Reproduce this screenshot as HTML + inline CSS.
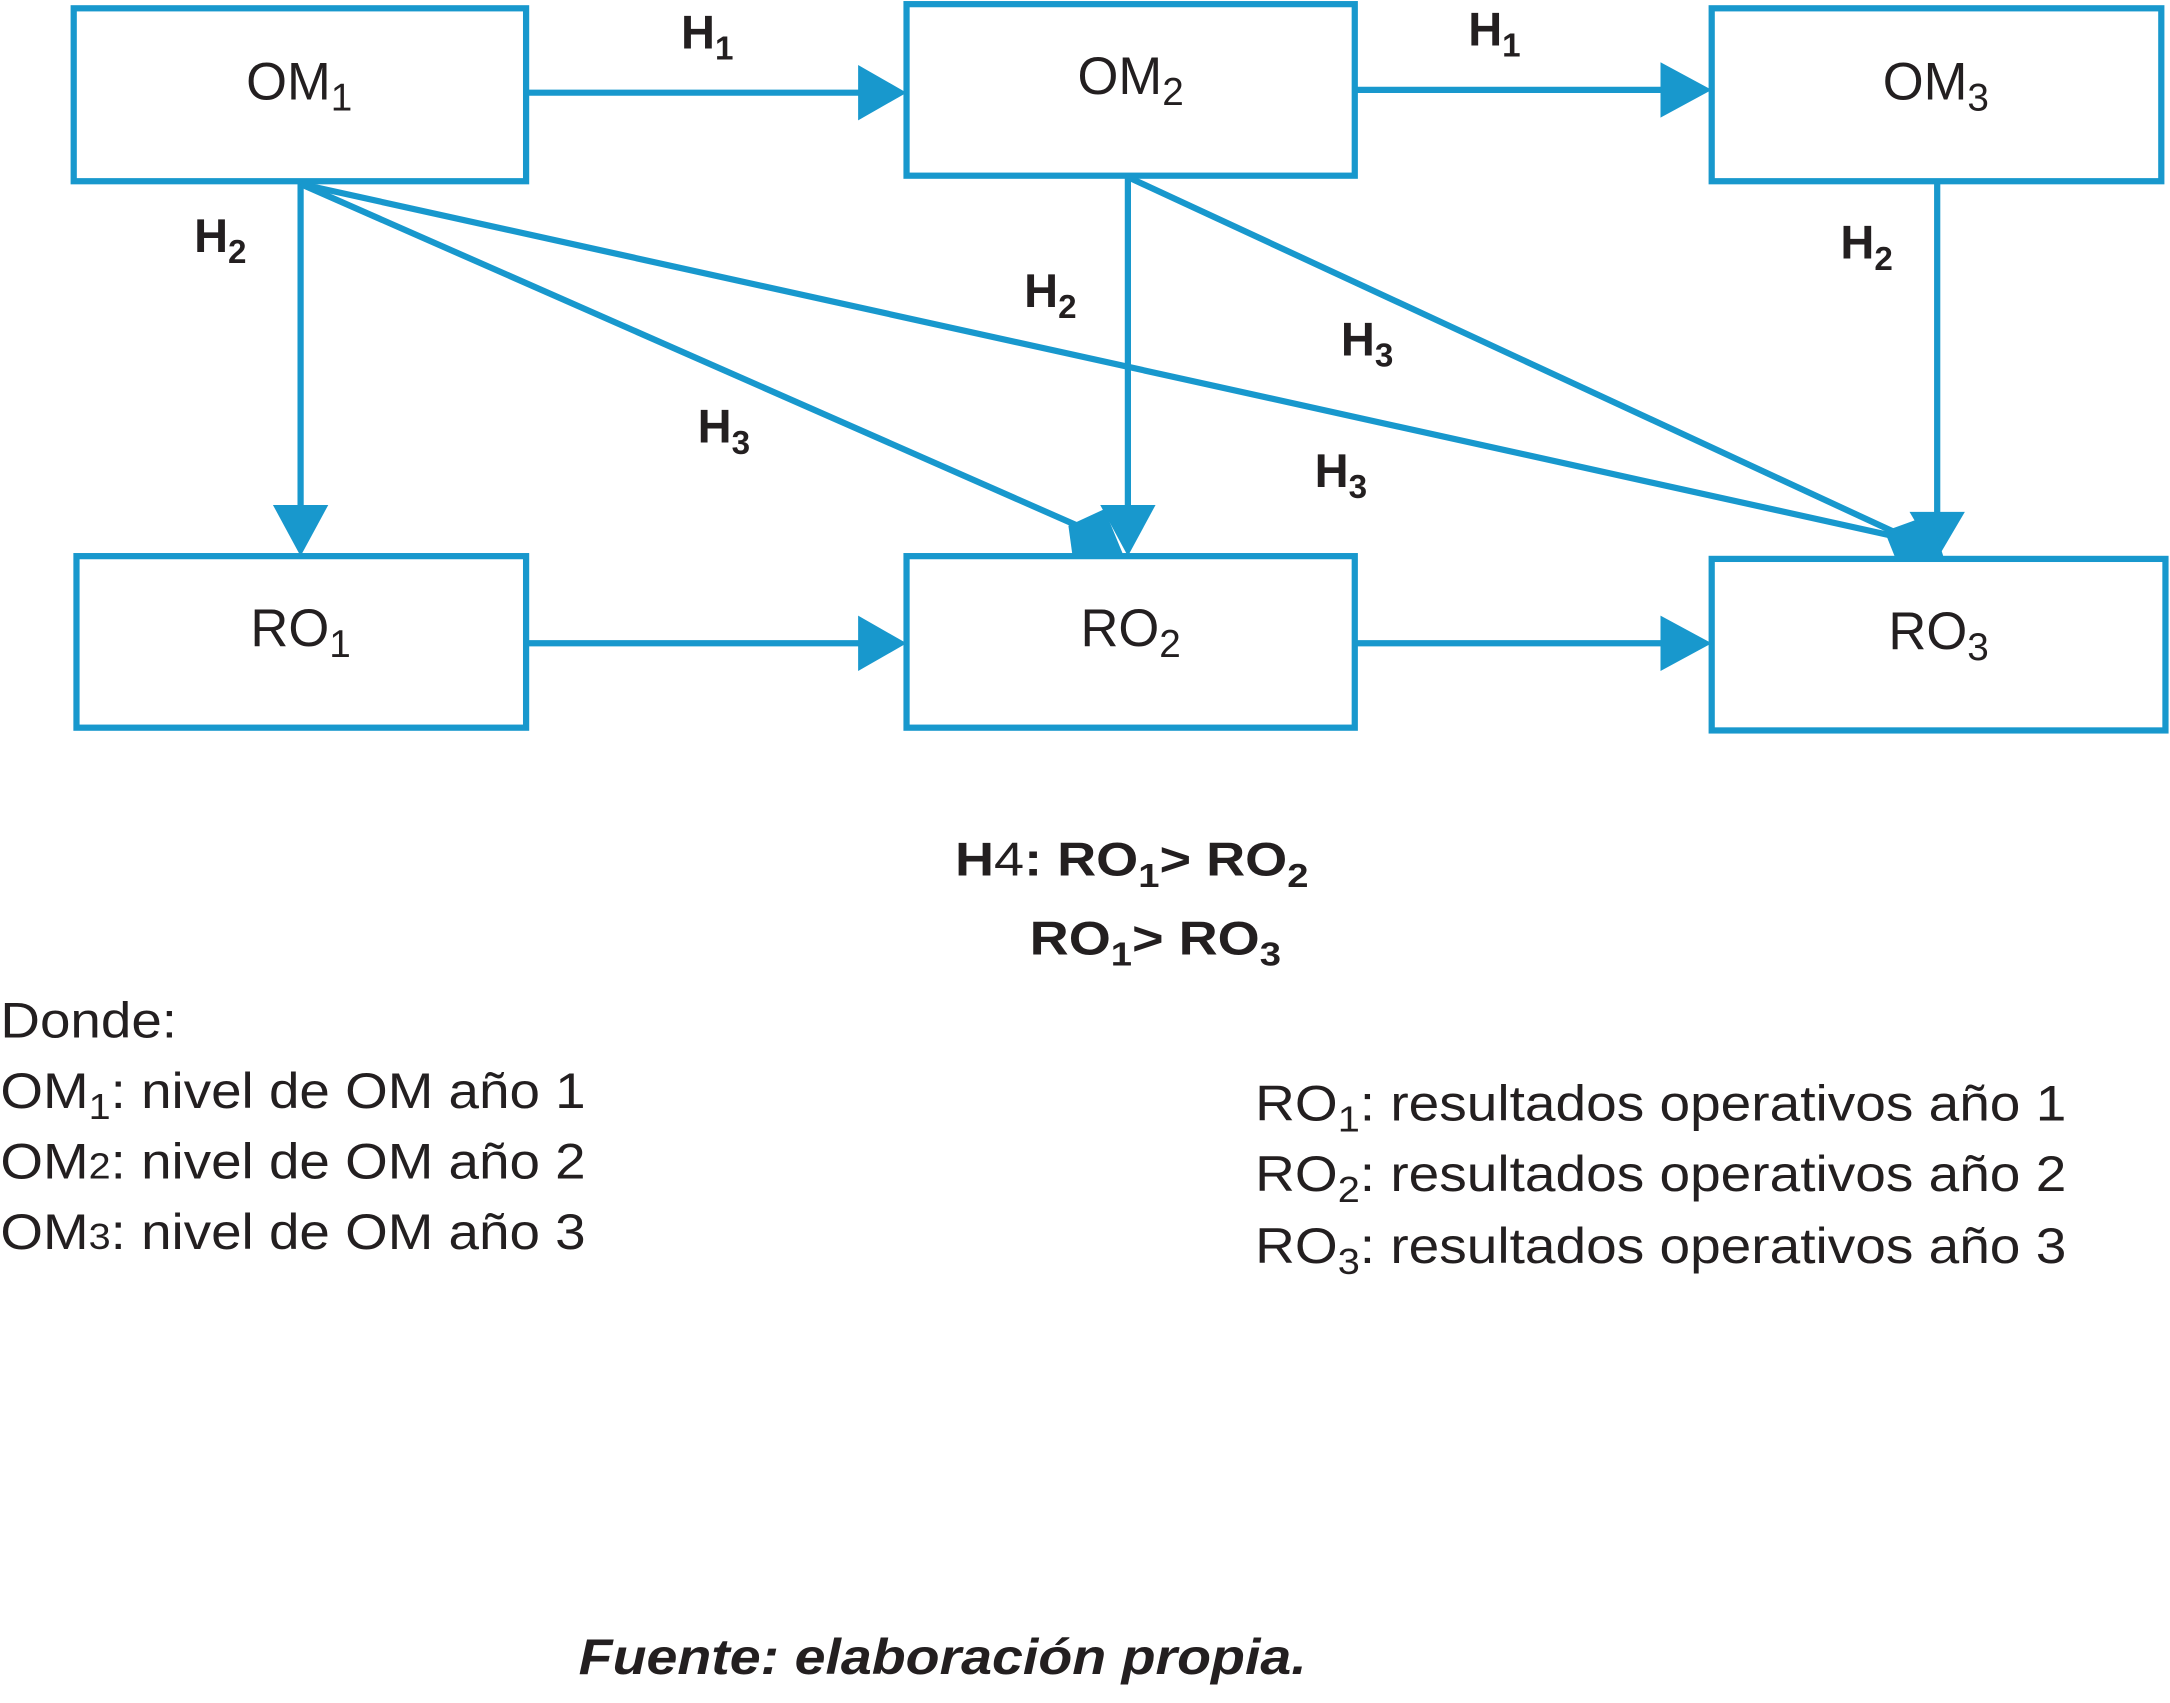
<!DOCTYPE html>
<html><head><meta charset="utf-8"><style>html,body{margin:0;padding:0;background:#fff}svg{display:block}</style></head>
<body>
<svg width="2170" height="1703" viewBox="0 0 1568 1231" xmlns="http://www.w3.org/2000/svg" font-family="Liberation Sans, Arial, sans-serif">
<g fill="none" stroke="#1898cd" stroke-width="4.5">
<rect x="53" y="6" width="327" height="125"/>
<rect x="655" y="3" width="324" height="124"/>
<rect x="1237" y="6" width="325" height="125"/>
<rect x="55" y="402" width="325" height="124"/>
<rect x="655" y="402" width="324" height="124"/>
<rect x="1237" y="404" width="328" height="124"/>
<line x1="380" y1="67" x2="622" y2="67"/>
<line x1="979" y1="65" x2="1202" y2="65"/>
<line x1="217" y1="131" x2="217" y2="367"/>
<line x1="380" y1="465" x2="622" y2="465"/>
<line x1="979" y1="465" x2="1202" y2="465"/>
<line x1="1400" y1="131" x2="1400" y2="372"/>
<line x1="815" y1="127" x2="815" y2="367"/>
<line x1="217" y1="133" x2="790" y2="385"/>
<line x1="217" y1="133" x2="1380" y2="390"/>
<line x1="815" y1="128" x2="1385" y2="392"/>
</g>
<g fill="#1898cd">
<polygon points="620,47 655,67 620,87"/>
<polygon points="1200,45 1237,65 1200,85"/>
<polygon points="197,365 237,365 217,402"/>
<polygon points="620,445 655,465 620,485"/>
<polygon points="1200,445 1237,465 1200,485"/>
<polygon points="1380,370 1420,370 1400,404"/>
<polygon points="795,365 835,365 815,402"/>
<polygon points="772,380 798,368 812,402 775,402"/>
<polygon points="1362,384 1395,372 1405,404 1370,404"/>
</g>
<g font-size="38" fill="#231f20" text-anchor="middle">
<text x="216" y="72">OM<tspan font-size="28" dy="8">1</tspan></text>
<text x="817" y="68">OM<tspan font-size="28" dy="8">2</tspan></text>
<text x="1399" y="72">OM<tspan font-size="28" dy="8">3</tspan></text>
<text x="217" y="467">RO<tspan font-size="28" dy="8">1</tspan></text>
<text x="817" y="467">RO<tspan font-size="28" dy="8">2</tspan></text>
<text x="1401" y="469">RO<tspan font-size="28" dy="8">3</tspan></text>
</g>
<g font-size="34" font-weight="bold" fill="#231f20">
<text x="492" y="35">H<tspan font-size="24" dy="8">1</tspan></text>
<text x="1061" y="33">H<tspan font-size="24" dy="8">1</tspan></text>
<text x="140" y="182">H<tspan font-size="24" dy="8">2</tspan></text>
<text x="740" y="222">H<tspan font-size="24" dy="8">2</tspan></text>
<text x="1330" y="187">H<tspan font-size="24" dy="8">2</tspan></text>
<text x="504" y="320">H<tspan font-size="24" dy="8">3</tspan></text>
<text x="969" y="257">H<tspan font-size="24" dy="8">3</tspan></text>
<text x="950" y="352">H<tspan font-size="24" dy="8">3</tspan></text>
<text transform="translate(690,633) scale(1.15,1)" x="0" y="0">H<tspan font-weight="normal">4</tspan>: RO<tspan font-size="24" dy="8">1</tspan><tspan dy="-8">&gt; RO</tspan><tspan font-size="24" dy="8">2</tspan></text>
<text transform="translate(744,690) scale(1.15,1)" x="0" y="0">RO<tspan font-size="24" dy="8">1</tspan><tspan dy="-8">&gt; RO</tspan><tspan font-size="24" dy="8">3</tspan></text>
</g>
<g font-size="36" fill="#231f20">
<text transform="translate(0,750) scale(1.1,1)">Donde:</text>
<text transform="translate(0,801) scale(1.1,1)">OM<tspan font-size="26" dy="8">1</tspan><tspan dy="-8">: nivel de OM año 1</tspan></text>
<text transform="translate(0,852) scale(1.1,1)">OM<tspan font-size="26">2</tspan>: nivel de OM año 2</text>
<text transform="translate(0,903) scale(1.1,1)">OM<tspan font-size="26">3</tspan>: nivel de OM año 3</text>
<text transform="translate(907,810) scale(1.105,1)">RO<tspan font-size="26" dy="8">1</tspan><tspan dy="-8">: resultados operativos año 1</tspan></text>
<text transform="translate(907,861) scale(1.105,1)">RO<tspan font-size="26" dy="8">2</tspan><tspan dy="-8">: resultados operativos año 2</tspan></text>
<text transform="translate(907,913) scale(1.105,1)">RO<tspan font-size="26" dy="8">3</tspan><tspan dy="-8">: resultados operativos año 3</tspan></text>
</g>
<text transform="translate(418,1210) scale(1.115,1)" font-size="36" font-weight="bold" font-style="italic" fill="#231f20">Fuente: elaboración propia.</text>
</svg>
</body></html>
